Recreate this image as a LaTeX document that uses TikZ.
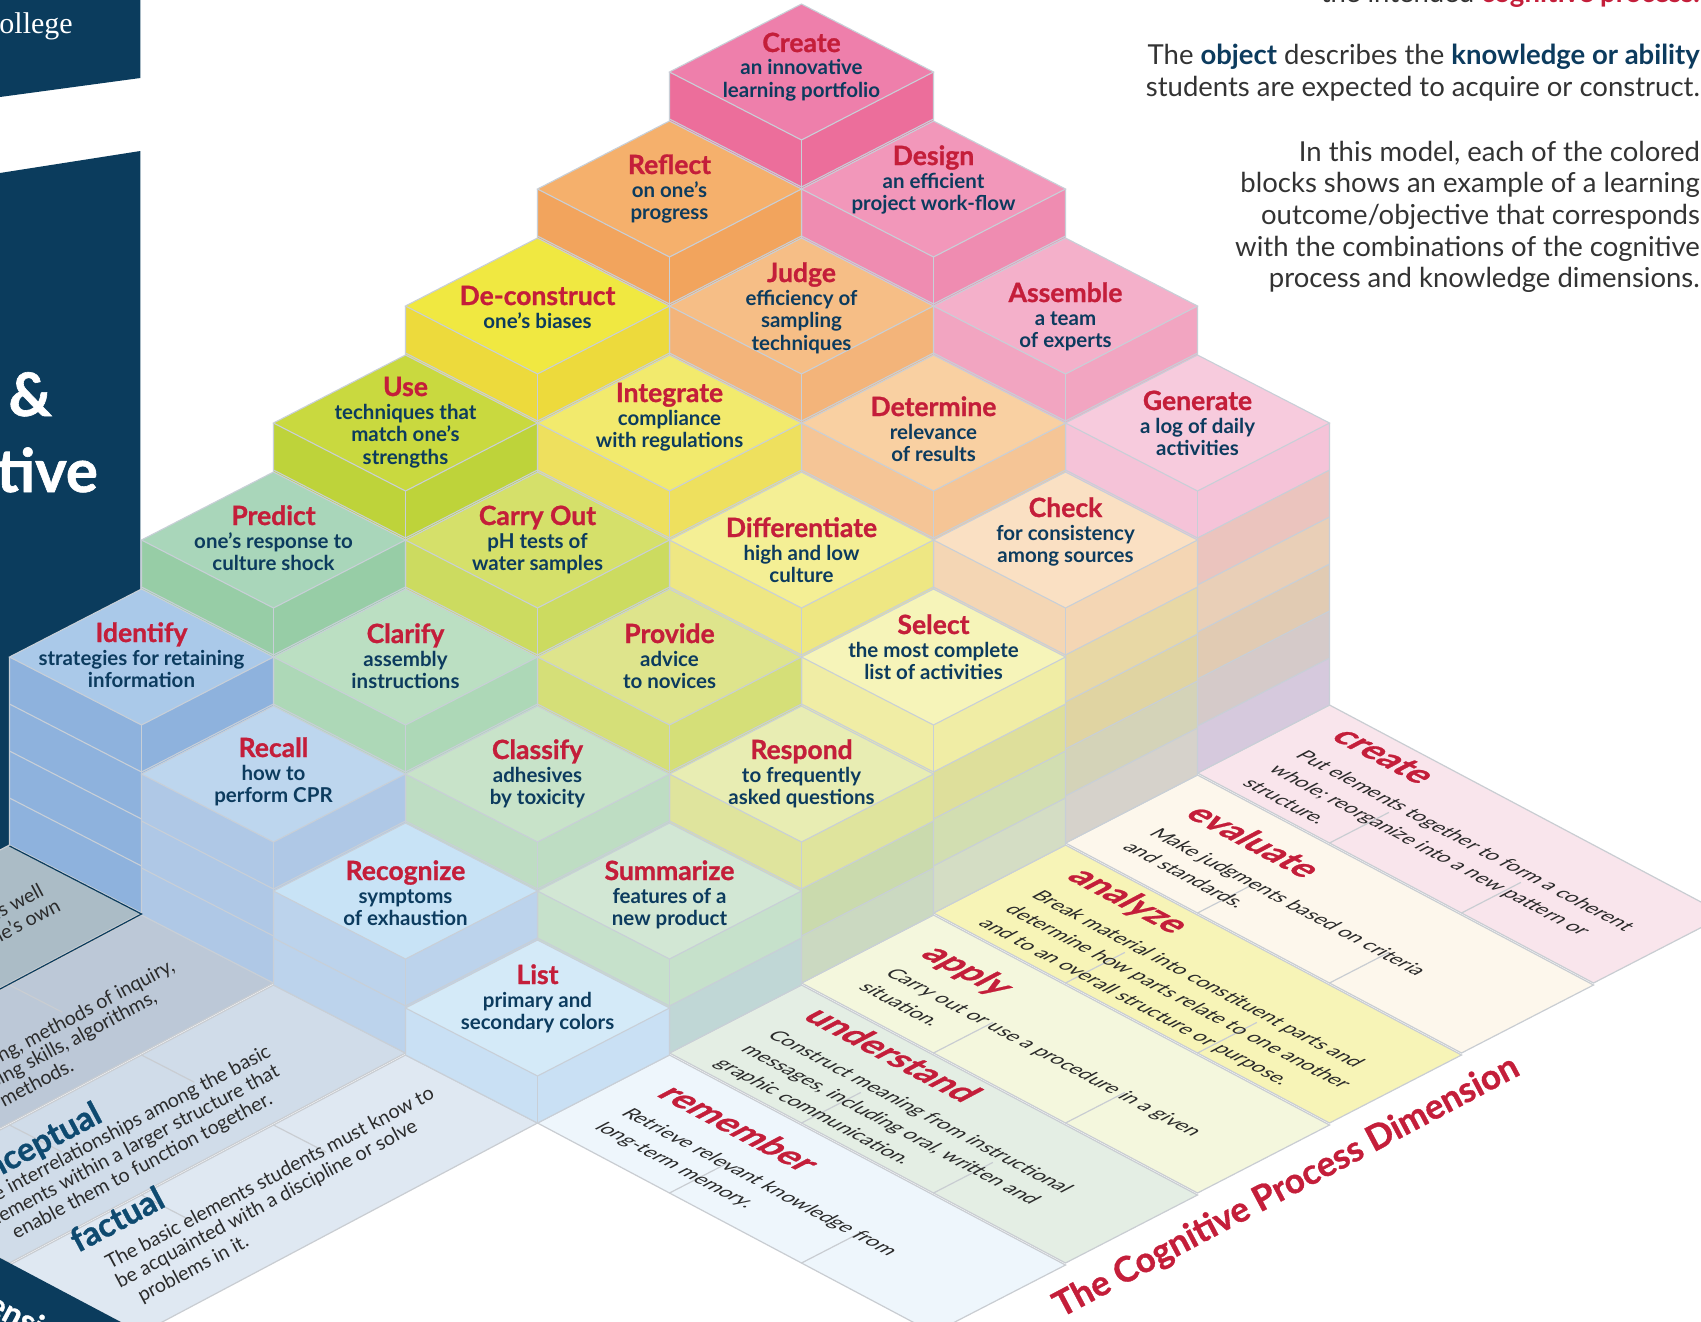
\documentclass[tikz,border=0pt]{standalone}
\usepackage{fontspec}
\setmainfont{Lato}
\newfontfamily\heavyfont{Lato}[BoldFeatures={FakeBold=1.0}]
\newfontfamily\seriffont{Liberation Serif}
\usetikzlibrary{calc}
\definecolor{navy}{HTML}{0B3C5D}
\definecolor{tred}{HTML}{C41E3A}
\definecolor{tnavy}{HTML}{0C3B5E}
\definecolor{khd}{HTML}{0E4A70}
\definecolor{edge}{HTML}{C8CFD7}
\definecolor{sline}{HTML}{C9CDD2}
\definecolor{gtext}{HTML}{2B2B2B}
\definecolor{ptx}{HTML}{333333}
% block colours: T = top, S = side
\definecolor{T53}{HTML}{EE7FAB}\definecolor{S53}{HTML}{EC6E9B}
\definecolor{T52}{HTML}{F297BA}\definecolor{S52}{HTML}{EF8CB1}
\definecolor{T51}{HTML}{F4B0CA}\definecolor{S51}{HTML}{F2A5C1}
\definecolor{T50}{HTML}{F7CBDD}\definecolor{S50}{HTML}{F5C3D8}
\definecolor{T43}{HTML}{F5B06C}\definecolor{S43}{HTML}{F2A45D}
\definecolor{T42}{HTML}{F6BE86}\definecolor{S42}{HTML}{F3B47A}
\definecolor{T41}{HTML}{F9D0A2}\definecolor{S41}{HTML}{F5C596}
\definecolor{T40}{HTML}{FAE0C3}\definecolor{S40}{HTML}{F4D6B4}
\definecolor{T33}{HTML}{F0E841}\definecolor{S33}{HTML}{EDDA3C}
\definecolor{T32}{HTML}{F2EA6D}\definecolor{S32}{HTML}{EEE05E}
\definecolor{T31}{HTML}{F4EF95}\definecolor{S31}{HTML}{EEE783}
\definecolor{T30}{HTML}{F6F4B9}\definecolor{S30}{HTML}{F0EDA5}
\definecolor{T23}{HTML}{C9D93F}\definecolor{S23}{HTML}{BED33A}
\definecolor{T22}{HTML}{D5E06A}\definecolor{S22}{HTML}{CCDB60}
\definecolor{T21}{HTML}{DEE48C}\definecolor{S21}{HTML}{D5DF78}
\definecolor{T20}{HTML}{E8EDB3}\definecolor{S20}{HTML}{DFE49D}
\definecolor{T13}{HTML}{A9D6BA}\definecolor{S13}{HTML}{97CDA6}
\definecolor{T12}{HTML}{BBDFC2}\definecolor{S12}{HTML}{ADD8B7}
\definecolor{T11}{HTML}{C8E3C9}\definecolor{S11}{HTML}{BEDDC3}
\definecolor{T10}{HTML}{D2E7D4}\definecolor{S10}{HTML}{C6E1CB}
\definecolor{T03}{HTML}{AAC9E9}\definecolor{S03}{HTML}{8EB2DD}
\definecolor{T02}{HTML}{BDD6EE}\definecolor{S02}{HTML}{AFC8E6}
\definecolor{T01}{HTML}{C8E3F6}\definecolor{S01}{HTML}{BCD3EC}
\definecolor{T00}{HTML}{D4EAF8}\definecolor{S00}{HTML}{C9E0F4}
% floor colours
\definecolor{F0}{HTML}{EEF6FC}\definecolor{F1}{HTML}{E4EEE4}
\definecolor{F2}{HTML}{F4F7DD}\definecolor{F3}{HTML}{F7F4B7}
\definecolor{F4}{HTML}{FDF7EC}\definecolor{F5}{HTML}{F9E5EC}
\definecolor{K0}{HTML}{DFE8F2}\definecolor{K1}{HTML}{D0DCE9}
\definecolor{K2}{HTML}{BCC8D7}\definecolor{K3}{HTML}{ABBCC6}

\tikzset{
  eline/.style={draw=edge, line width=1.1pt},
  btitle/.style={anchor=base, inner sep=0pt, text=tred, font=\heavyfont\fontsize{26.5}{30}\selectfont\bfseries},
  bdesc/.style={anchor=base, inner sep=0pt, text=tnavy, font=\fontsize{20.5}{24}\selectfont\bfseries},
  ctx/.style={anchor=base west, inner sep=0pt, cm={0.8835,-0.4685,0.8835,0.4685,(0,0)}},
  chead/.style={text=tred, font=\heavyfont\fontsize{36}{40}\selectfont\bfseries},
  cdesc/.style={text=gtext, font=\fontsize{20.5}{24}\selectfont},
  ktx/.style={inner sep=0pt, rotate=27.9},
  khead/.style={text=khd, font=\heavyfont\fontsize{33}{38}\selectfont\bfseries},
  kdesc/.style={text=gtext, font=\fontsize{19.7}{23}\selectfont},
  ptext/.style={anchor=base east, inner sep=0pt, text=ptx, font=\fontsize{27.5}{31}\selectfont},
}

% stack: i, j, title offset, title, description lines
\newcommand\stk[5]{%
  \pgfmathsetmacro\Tx{537.5+132*(#1-#2)}%
  \pgfmathsetmacro\Ty{1008-117*(#1+#2)}%
  \pgfmathtruncatemacro\Nl{#1+#2+1}%
  \pgfmathtruncatemacro\Nm{#1+#2}%
  \pgfmathsetmacro\Hh{47*\Nl}%
  \fill[S#1#2] (\Tx-132,\Ty) -- (\Tx,\Ty+68) -- (\Tx,\Ty+68+\Hh) -- (\Tx-132,\Ty+\Hh) -- cycle;
  \fill[S#1#2] (\Tx,\Ty+68) -- (\Tx+132,\Ty) -- (\Tx+132,\Ty+\Hh) -- (\Tx,\Ty+68+\Hh) -- cycle;
  \ifnum#2=0\relax\ifnum#1>0\relax
    \pgfmathtruncatemacro\Im{#1-1}%
    \foreach \kk in {0,...,\Im}{%
      \pgfmathsetmacro\Ya{47*(#1-\kk)}%
      \colorlet{lyr}{S#10!50!S\kk0!96!black}%
      \fill[lyr] (\Tx,\Ty+68+\Ya) -- (\Tx+132,\Ty+\Ya) -- (\Tx+132,\Ty+\Ya+47) -- (\Tx,\Ty+68+\Ya+47) -- cycle;
    }%
  \fi\fi
  \ifnum\Nm>0\relax
    \foreach \mm in {1,...,\Nm}{%
      \draw[eline] (\Tx-132,\Ty+47*\mm) -- (\Tx,\Ty+68+47*\mm) -- (\Tx+132,\Ty+47*\mm);
    }%
  \fi
  \draw[eline] (\Tx-132,\Ty) -- (\Tx-132,\Ty+\Hh) -- (\Tx,\Ty+68+\Hh) -- (\Tx+132,\Ty+\Hh) -- (\Tx+132,\Ty);
  \draw[eline] (\Tx,\Ty+68) -- (\Tx,\Ty+68+\Hh);
  \filldraw[fill=T#1#2, eline] (\Tx,\Ty-68) -- (\Tx+132,\Ty) -- (\Tx,\Ty+68) -- (\Tx-132,\Ty) -- cycle;
  \pgfmathsetmacro\Yt{\Ty+(#3)}%
  \node[btitle] at (\Tx,\Yt) {#4};
  \foreach \dl [count=\dc from 0] in {#5}{%
    \node[bdesc] at (\Tx,\Yt+23+22.7*\dc) {\dl};
  }%
}

% cognitive floor strip: i, colour
\newcommand\cstrip[2]{%
  \pgfmathsetmacro\Px{669.5+132*#1}\pgfmathsetmacro\Py{1055-70*#1}%
  \filldraw[fill=#2, draw=sline, line width=1.2pt] (\Px,\Py) -- ++(396,210) -- ++(-132,68) -- ++(-396,-210) -- cycle;
  \draw[sline, line width=1.2pt] (\Px,\Py+138) -- ++(59.4,-30.6);
  \draw[sline, line width=1.2pt] (\Px+132,\Py+208) -- ++(59.4,-30.6);
}
% knowledge floor strip: j, colour
\newcommand\kstrip[2]{%
  \pgfmathsetmacro\Ax{405.5-132*#1}\pgfmathsetmacro\Ay{1055-70*#1}%
  \filldraw[fill=#2, draw=sline, line width=1.2pt] (\Ax,\Ay) -- ++(-396,210) -- ++(132,68) -- ++(396,-210) -- cycle;
  \draw[sline, line width=1.2pt] (\Ax-132,\Ay+70) -- ++(52.8,27.2);
  \draw[sline, line width=1.2pt] (\Ax-264,\Ay+140) -- ++(52.8,27.2);
}
% text line on a cognitive strip: i, beta, text, style
\newcommand\cl[4]{%
  \node[ctx,#4] at ({669.5+132*#1+0.8835*(35-(#2))},{1055-70*#1+0.4685*(35+(#2))}) {#3};%
}

\begin{document}
\begin{tikzpicture}[x=1pt,y=-1pt]
\useasboundingbox (0,0) rectangle (1701,1322);
\clip (0,0) rectangle (1701,1322);
\fill[white] (0,0) rectangle (1701,1322);

% navy panels
\fill[navy] (0,0) -- (140.4,0) -- (140.4,78) -- (0,97) -- cycle;
\fill[navy] (0,173) -- (140.4,151) -- (140.4,905) -- (0,905) -- cycle;
\node[anchor=base east, inner sep=0pt, text=white, font=\seriffont\fontsize{30}{36}\selectfont] (college) at (73,34) {College};
\node[anchor=base east, inner sep=0pt, text=white, font=\heavyfont\fontsize{60}{70}\selectfont\bfseries] (amp) at (52,416) {Knowledge \&};
\node[anchor=base east, inner sep=0pt, text=white, font=\heavyfont\fontsize{60}{70}\selectfont\bfseries] (cog) at (98,492) {Cognitive};

% top-right paragraphs
\node[ptext] (p0) at (1700,3) {the intended {\bfseries\color{tred}cognitive process.}};
\node[ptext] (p1) at (1700,65) {The {\bfseries\color{tnavy}object} describes the {\bfseries\color{tnavy}knowledge or ability}};
\node[ptext] (p2) at (1700,96.7) {students are expected to acquire or construct.};
\node[ptext] (p3) at (1700,161.7) {In this model, each of the colored};
\node[ptext] (p4) at (1700,192.7) {blocks shows an example of a learning};
\node[ptext] (p5) at (1700,224) {outcome/objective that corresponds};
\node[ptext] (p6) at (1700,256) {with the combinations of the cognitive};
\node[ptext] (p7) at (1700,287.3) {process and knowledge dimensions.};

% floor: cognitive process strips
\cstrip{5}{F5}\cstrip{4}{F4}\cstrip{3}{F3}\cstrip{2}{F2}\cstrip{1}{F1}\cstrip{0}{F0}
% floor: knowledge strips
\kstrip{3}{K3}\kstrip{2}{K2}\kstrip{1}{K1}\kstrip{0}{K0}
\fill[navy] (0,1258) -- (9.5,1263) -- (141.5,1333) -- (0,1333) -- cycle;

% cognitive strip texts
\cl{5}{35}{create}{chead}
\cl{5}{75}{Put elements together to form a coherent}{cdesc}
\cl{5}{105}{whole; reorganize into a new pattern or}{cdesc}
\cl{5}{135}{structure.}{cdesc}
\cl{4}{51}{evaluate}{chead}
\cl{4}{91}{Make judgments based on criteria}{cdesc}
\cl{4}{121}{and standards.}{cdesc}
\cl{3}{35}{analyze}{chead}
\cl{3}{75}{Break material into constituent parts and}{cdesc}
\cl{3}{105}{determine how parts relate to one another}{cdesc}
\cl{3}{135}{and to an overall structure or purpose.}{cdesc}
\cl{2}{51}{apply}{chead}
\cl{2}{91}{Carry out or use a procedure in a given}{cdesc}
\cl{2}{121}{situation.}{cdesc}
\cl{1}{35}{understand}{chead}
\cl{1}{75}{Construct meaning from instructional}{cdesc}
\cl{1}{105}{messages, including oral, written and}{cdesc}
\cl{1}{135}{graphic communication.}{cdesc}
\cl{0}{51}{remember}{chead}
\cl{0}{91}{Retrieve relevant knowledge from}{cdesc}
\cl{0}{121}{long-term memory.}{cdesc}

% knowledge strip texts
\node[ktx,khead,anchor=base west] (kf) at (78,1253) {factual};
\node[ktx,kdesc,anchor=base west] at (110,1270) {The basic elements students must know to};
\node[ktx,kdesc,anchor=base west] at (120,1288.5) {be acquainted with a discipline or solve};
\node[ktx,kdesc,anchor=base west] at (142,1303) {problems in it.};
\node[ktx,khead,anchor=base east] (kc) at (104,1121) {conceptual};
\node[ktx,kdesc,anchor=base] at (124.8,1133.7) {The interrelationships among the basic};
\node[ktx,kdesc,anchor=base] at (134.9,1152.7) {elements within a larger structure that};
\node[ktx,kdesc,anchor=base] at (145,1171.7) {enable them to function together.};
\node[ktx,kdesc,anchor=base east] at (176,970) {How to do something, methods of inquiry,};
\node[ktx,kdesc,anchor=base east] at (158.3,1001.7) {and criteria for using skills, algorithms,};
\node[ktx,kdesc,anchor=base east] at (75,1070) {techniques, and methods.};
\node[ktx,kdesc,anchor=base east] at (45,895) {Knowledge of cognition in general as well};
\node[ktx,kdesc,anchor=base east] at (62,910) {as awareness and knowledge of one’s own};
\node[inner sep=0pt, rotate=-27.9, anchor=base east, text=white, font=\heavyfont\fontsize{32}{36}\selectfont\bfseries] (kdim) at (68,1355) {The Knowledge Dimension};
\node[inner sep=0pt, rotate=27.9, anchor=base west, text=tred, font=\heavyfont\fontsize{35}{40}\selectfont\bfseries] (cdim) at (1061,1318) {The Cognitive Process Dimension};

% stacks, back to front
\stk{5}{3}{-20}{Create}{an innovative,learning portfolio}
\stk{5}{2}{-24}{Design}{an efficient,project work-flow}
\stk{4}{3}{-15}{Reflect}{on one’s,progress}
\stk{5}{1}{-4}{Assemble}{a team,of experts}
\stk{4}{2}{-24}{Judge}{efficiency of,sampling,techniques}
\stk{3}{3}{-1}{De-construct}{one’s biases}
\stk{5}{0}{-13}{Generate}{a log of daily,activities}
\stk{4}{1}{-7}{Determine}{relevance,of results}
\stk{3}{2}{-21}{Integrate}{compliance,with regulations}
\stk{2}{3}{-27}{Use}{techniques that,match one’s,strengths}
\stk{4}{0}{-23}{Check}{for consistency,among sources}
\stk{3}{1}{-3}{Differentiate}{high and low,culture}
\stk{2}{2}{-15}{Carry Out}{pH tests of,water samples}
\stk{1}{3}{-15}{Predict}{one’s response to,culture shock}
\stk{3}{0}{-23}{Select}{the most complete,list of activities}
\stk{2}{1}{-14}{Provide}{advice,to novices}
\stk{1}{2}{-14}{Clarify}{assembly,instructions}
\stk{0}{3}{-15}{Identify}{strategies for retaining,information}
\stk{2}{0}{-15}{Respond}{to frequently,asked questions}
\stk{1}{1}{-15}{Classify}{adhesives,by toxicity}
\stk{0}{2}{-17}{Recall}{how to,perform CPR}
\stk{1}{0}{-11}{Summarize}{features of a,new product}
\stk{0}{1}{-11}{Recognize}{symptoms,of exhaustion}
\stk{0}{0}{-24}{List}{primary and,secondary colors}

% navy outline of the metacognitive strip
\draw[navy, line width=1.2pt] (9.5,846) -- (141.5,914) -- ++(-396,210);
\end{tikzpicture}
\end{document}
